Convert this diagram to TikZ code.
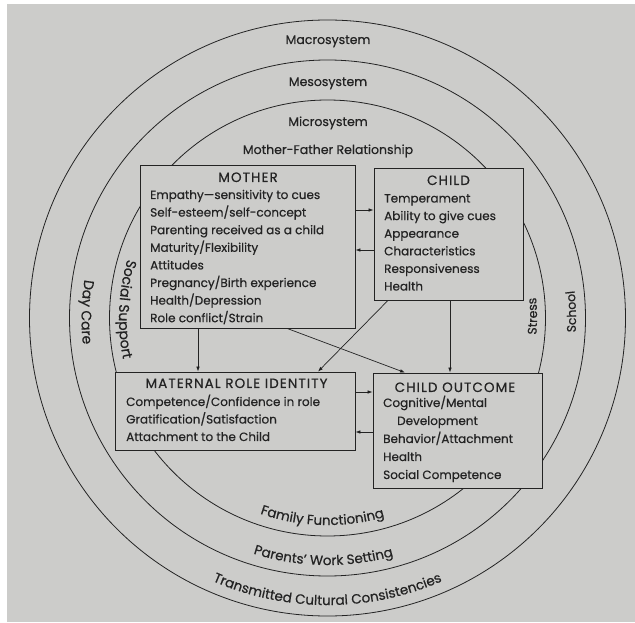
\documentclass[tikz,border=0pt]{standalone}
\usepackage{fontspec}
\setmainfont{Poppins}[FakeBold=0.5]
\usetikzlibrary{arrows.meta,decorations.text}
\definecolor{bg}{RGB}{204,204,202}
\definecolor{ink}{RGB}{35,35,35}
\newcommand{\curvfont}{\fontsize{12.5}{14}\selectfont}
\newcommand{\bigcurvfont}{\fontsize{13.5}{15}\selectfont}
\newcommand{\leftcurvfont}{\fontsize{14}{16}\selectfont}
\newcommand{\titlefont}{\fontsize{13.5}{16}\selectfont\addfontfeatures{LetterSpace=8}}
\begin{document}
\begin{tikzpicture}[x=1pt,y=1pt,
  ring/.style={draw=ink,line width=0.8pt},
  box/.style={draw=ink,line width=0.8pt,fill=bg,inner sep=0pt},
  arr/.style={draw=ink,line width=0.7pt,-{Latex[length=5pt,width=3.6pt]}},
  lbl/.style={text=ink,font=\fontsize{12}{14}\selectfont,inner sep=0pt},
  ttl/.style={text=ink,font=\titlefont,inner sep=0pt,anchor=base},
  top/.style={text=ink,font=\fontsize{12.5}{14}\selectfont,inner sep=0pt,anchor=base},
  itm/.style={lbl,anchor=base west},
  curv/.style={decorate,decoration={text along path,text align=center,text color=ink,text={|\curvfont|#1}}},
  bigcurv/.style={decorate,decoration={text along path,text align=center,text color=ink,text={|\bigcurvfont|#1}}},
  leftcurv/.style={decorate,decoration={text along path,text align=center,text color=ink,text={|\leftcurvfont|#1}}}]
\useasboundingbox (0,0) rectangle (635,622);
\fill[white] (0,0) rectangle (635,622);
\fill[bg] (7,0) rectangle (635,618);
\coordinate (C) at (327.5,304);
\draw[ring] (C) circle[radius=298];
\draw[ring] (C) circle[radius=258];
\draw[ring] (C) circle[radius=218];
% top labels
\node[top] (macro) at (328,578) {Macrosystem};
\node[top] (meso) at (328,536) {Mesosystem};
\node[top] (micro) at (328,496) {Microsystem};
\node[top] (mfrel) at (328,468) {Mother-Father Relationship};
% curved labels
\path[leftcurv={Social Support}] (C) ++(117.5:208.5) arc[start angle=117.5,end angle=237.5,radius=208.5];
\path[leftcurv={Day Care}] (C) ++(118.6:246) arc[start angle=118.6,end angle=238.6,radius=246];
\path[curv={Stress}] (C) ++(-59.5:209.5) arc[start angle=-59.5,end angle=60.5,radius=209.5];
\path[curv={School}] (C) ++(-58.5:248.5) arc[start angle=-58.5,end angle=61.5,radius=248.5];
\path[bigcurv={Family Functioning}] (C) ++(198.5:207) arc[start angle=198.5,end angle=338.5,radius=207];
\path[bigcurv={Parents' Work Setting}] (C) ++(199:247) arc[start angle=199,end angle=339,radius=247];
\path[bigcurv={Transmitted Cultural Consistencies}] (C) ++(200:287) arc[start angle=200,end angle=340,radius=287];
% boxes
\node[box,minimum width=215pt,minimum height=163pt] (mother) at (247.5,375.5) {};
\node[box,minimum width=149pt,minimum height=132pt] (child) at (448.5,388) {};
\node[box,minimum width=240pt,minimum height=78pt] (maternal) at (235,211) {};
\node[box,minimum width=169pt,minimum height=115pt] (outcome) at (457.5,191.5) {};
% mother text
\node[ttl] (mt) at (248,440) {MOTHER};
\foreach \t [count=\i from 0] in {Empathy---sensitivity to cues,Self-esteem/self-concept,Parenting received as a child,Maturity/Flexibility,Attitudes,Pregnancy/Birth experience,Health/Depression,Role conflict/Strain}
  \node[itm] (m\i) at (150,423-17.6*\i) {\t};
% child text
\node[ttl] (ct) at (448.5,437) {CHILD};
\foreach \t [count=\i from 0] in {Temperament,Ability to give cues,Appearance,Characteristics,Responsiveness,Health}
  \node[itm] (c\i) at (384,419.5-17.6*\i) {\t};
% maternal text
\node[ttl] (rt) at (236.5,234) {MATERNAL ROLE IDENTITY};
\foreach \t [count=\i from 0] in {Competence/Confidence in role,Gratification/Satisfaction,Attachment to the Child}
  \node[itm] (r\i) at (126,216-17.5*\i) {\t};
% outcome text
\node[ttl] (ot) at (455,230) {CHILD OUTCOME};
\node[itm] (o0) at (383,215) {Cognitive/Mental};
\node[itm] (o1) at (397,197) {Development};
\node[itm] (o2) at (383,179) {Behavior/Attachment};
\node[itm] (o3) at (383,161) {Health};
\node[itm] (o4) at (383,143) {Social Competence};
% arrows
\coordinate (ya) at (0,412); \coordinate (yb) at (0,372);
\coordinate (yc) at (0,230); \coordinate (yd) at (0,190);
\coordinate (xa) at (198,0); \coordinate (xb) at (450,0);
\coordinate (xc) at (287,0); \coordinate (xd) at (405,0);
\coordinate (xe) at (388,0); \coordinate (xf) at (318,0);
\draw[arr] (mother.east|-ya) -- (child.west|-ya);
\draw[arr] (child.west|-yb) -- (mother.east|-yb);
\draw[arr] (maternal.east|-yc) -- (outcome.west|-yc);
\draw[arr] (outcome.west|-yd) -- (maternal.east|-yd);
\draw[arr] (mother.south-|xa) -- (maternal.north-|xa);
\draw[arr] (child.south-|xb) -- (outcome.north-|xb);
\draw[arr] (mother.south-|xc) -- (outcome.north-|xd);
\draw[arr] (child.south-|xe) -- (maternal.north-|xf);
\end{tikzpicture}
\end{document}
